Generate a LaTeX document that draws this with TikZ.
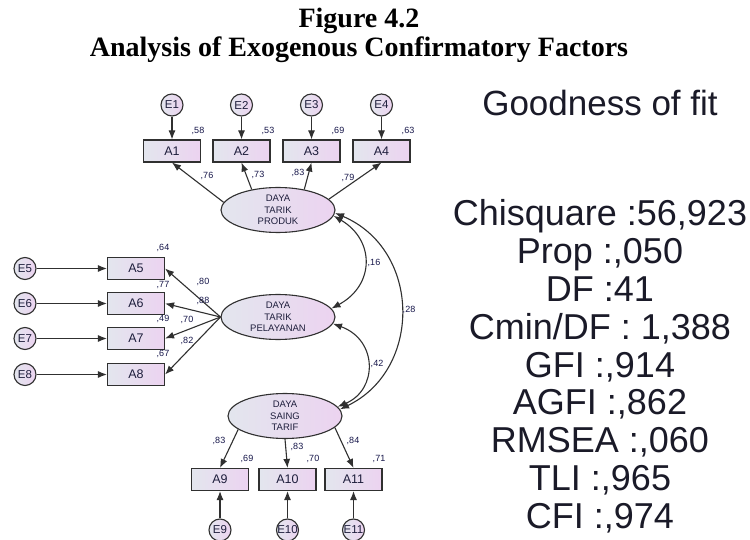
\documentclass[tikz,border=0pt]{standalone}
\usepackage{fontspec}
\setmainfont{Liberation Sans}
\newfontfamily\timesfont{Liberation Serif}
\usetikzlibrary{arrows.meta,shapes.geometric}
\definecolor{gl}{HTML}{E3E6EE}
\definecolor{gr}{HTML}{ECD3F0}
\definecolor{linec}{HTML}{303030}
\definecolor{txtc}{HTML}{1E1E3C}
\definecolor{labc}{HTML}{16164A}
\definecolor{fitc}{HTML}{1A1A28}
\begin{document}
\begin{tikzpicture}[x=1pt,y=-1pt,
  obs/.style={draw=linec, line width=1.1pt, left color=gl, right color=gr,
    minimum width=57pt, minimum height=22pt, inner sep=0pt,
    font=\fontsize{12.5}{12.5}\selectfont, text=txtc},
  lat/.style={ellipse, draw=linec, line width=1.1pt, left color=gl, right color=gr,
    minimum width=114pt, minimum height=45pt, inner sep=0pt, align=center,
    font=\fontsize{9.5}{11.5}\selectfont, text=txtc},
  err/.style={circle, draw=linec, line width=1.1pt, left color=gl, right color=gr,
    minimum size=22pt, inner sep=0pt, font=\fontsize{11.5}{11.5}\selectfont, text=txtc},
  arr/.style={-{Latex[length=9pt,width=7pt]}, line width=1.1pt, draw=linec},
  darr/.style={{Latex[length=9pt,width=7pt]}-{Latex[length=9pt,width=7pt]}, line width=1.1pt, draw=linec},
  lab/.style={font=\fontsize{9}{9}\selectfont, text=labc, inner sep=0pt},
  fitline/.style={font=\fontsize{36}{36}\selectfont, text=fitc, anchor=base, inner sep=0pt},
  ttl/.style={font=\timesfont\bfseries\fontsize{28}{28}\selectfont, anchor=base, inner sep=0pt}
]
\useasboundingbox (0,0) rectangle (750,540);
\fill[white] (0,0) rectangle (750,540);

% title
\node[ttl] (t1) at (359,28) {Figure 4.2};
\node[ttl] (t2) at (359,57) {Analysis of Exogenous Confirmatory Factors};

% latent variables
\node[lat] (prod) at (278,210) {DAYA\\TARIK\\PRODUK};
\node[lat] (pel) at (278,317) {DAYA\\TARIK\\PELAYANAN};
\node[lat] (sai) at (285,416) {DAYA\\SAING\\TARIF};

% top indicators
\node[obs] (A1) at (172,151) {A1};
\node[obs] (A2) at (241.5,151) {A2};
\node[obs] (A3) at (311.5,151) {A3};
\node[obs] (A4) at (381.5,151) {A4};
\node[err] (E1) at (172,105) {E1};
\node[err] (E2) at (241.5,105) {E2};
\node[err] (E3) at (311.5,105) {E3};
\node[err] (E4) at (381.5,105) {E4};

% left indicators
\node[obs] (A5) at (136,268.5) {A5};
\node[obs] (A6) at (136,303.5) {A6};
\node[obs] (A7) at (136,338.5) {A7};
\node[obs] (A8) at (136,374.5) {A8};
\node[err] (E5) at (25,268.5) {E5};
\node[err] (E6) at (25,303.5) {E6};
\node[err] (E7) at (25,338.5) {E7};
\node[err] (E8) at (25,374.5) {E8};

% bottom indicators
\node[obs] (A9) at (220,479.5) {A9};
\node[obs] (A10) at (287.5,479.5) {A10};
\node[obs] (A11) at (353.5,479.5) {A11};
\node[err] (E9) at (220,530) {E9};
\node[err] (E10) at (287.5,530) {E10};
\node[err] (E11) at (353.5,530) {E11};

% error arrows
\foreach \i in {1,2,3,4} \draw[arr] (E\i) -- (A\i);
\foreach \i in {5,6,7,8} \draw[arr] (E\i) -- (A\i);
\foreach \i in {9,10,11} \draw[arr] (E\i) -- (A\i);

% loadings
\draw[arr] (prod.172) -- (A1.south);
\draw[arr] (prod.142) -- (A2.south);
\draw[arr] (prod.38) -- (A3.south);
\draw[arr] (prod.12) -- (A4.south);
\foreach \i in {5,6,7,8} \draw[arr] (pel.west) -- (A\i.east);
\draw[arr] (sai.-164) -- (A9.north);
\draw[arr] (sai.south) -- (A10.north);
\draw[arr] (sai.-13) -- (A11.north);

% covariances
\draw[darr] (prod.-6) .. controls (375,240) and (375,285) .. (pel.9);
\draw[darr] (pel.-7) .. controls (378,340) and (378,390) .. (sai.10);
\draw[darr] (prod.-3) .. controls (422,250) and (422,370) .. (sai.7);

% labels
\node[lab] (v1) at (198,131) {,58};
\node[lab] (v2) at (268,131) {,53};
\node[lab] (v3) at (338,131) {,69};
\node[lab] (v4) at (408,131) {,63};
\node[lab] (l1) at (207,176) {,76};
\node[lab] (l2) at (258,175) {,73};
\node[lab] (l3) at (298,173) {,83};
\node[lab] (l4) at (348,178) {,79};
\node[lab] (v5) at (163,248) {,64};
\node[lab] (v6) at (163,285) {,77};
\node[lab] (v7) at (163,319) {,49};
\node[lab] (v8) at (163,354) {,67};
\node[lab] (l5) at (203,282) {,80};
\node[lab] (l6) at (203,301) {,88};
\node[lab] (l7) at (187,320) {,70};
\node[lab] (l8) at (187,341) {,82};
\node[lab] (l9) at (219,441) {,83};
\node[lab] (l10) at (297,447) {,83};
\node[lab] (l11) at (353,441) {,84};
\node[lab] (v9) at (247,459) {,69};
\node[lab] (v10) at (313,459) {,70};
\node[lab] (v11) at (379,459) {,71};
\node[lab] (c1) at (374,263) {,16};
\node[lab] (c2) at (409,310) {,28};
\node[lab] (c3) at (377,364) {,42};

% goodness of fit
\node[fitline, font=\fontsize{35}{35}\selectfont] (g0) at (600,116) {Goodness of fit};
\node[fitline] (g1) at (600,226) {Chisquare :56,923};
\node[fitline] (g2) at (600,263.75) {Prop :,050};
\node[fitline] (g3) at (600,301.5) {DF :41};
\node[fitline] (g4) at (600,339.25) {Cmin/DF : 1,388};
\node[fitline] (g5) at (600,377) {GFI :,914};
\node[fitline] (g6) at (600,414.75) {AGFI :,862};
\node[fitline] (g7) at (600,452.5) {RMSEA :,060};
\node[fitline] (g8) at (600,490.25) {TLI :,965};
\node[fitline] (g9) at (600,528) {CFI :,974};
\end{tikzpicture}
\end{document}
